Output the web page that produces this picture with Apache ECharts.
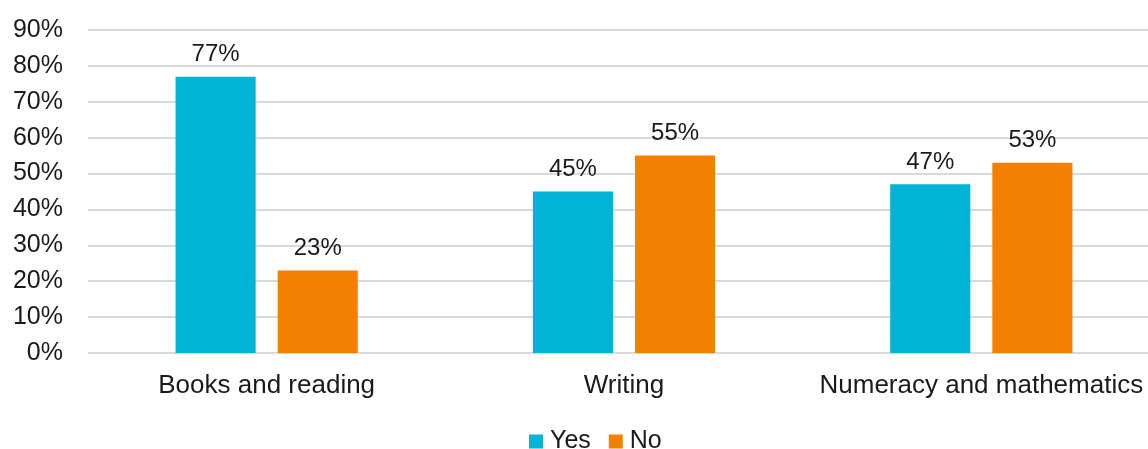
<!DOCTYPE html>
<html><head><meta charset="utf-8">
<script src="https://cdn.jsdelivr.net/npm/echarts@6/dist/echarts.min.js"></script>
<style>html,body{margin:0;padding:0;background:#fff}#c{width:1148px;height:449px}</style>
</head><body><div id="c"></div>
<script>
const categories = ['Books and reading', 'Writing', 'Numeracy and mathematics'];
const yesValues = [77, 45, 47];
const noValues = [23, 55, 53];
const seriesNames = ['Yes', 'No'];

const chart = echarts.init(document.getElementById('c'), null, {renderer: 'canvas'});
const font = '"Liberation Sans", Arial, sans-serif';
const lbl = {show: true, position: 'top', distance: 10, formatter: p => p.value + '%', color: '#1a1a1a', fontSize: 24, fontFamily: font};
chart.setOption({
  animation: false,
  textStyle: {fontFamily: font},
  grid: {left: 88, width: 1072, top: 30, bottom: 96, containLabel: false, outerBoundsMode: 'none'},
  legend: {
    data: seriesNames, top: 424, left: 524, itemWidth: 14, itemHeight: 14, itemGap: 18,
    icon: 'rect', textStyle: {fontSize: 25, color: '#1a1a1a', fontFamily: font, padding: [0, 0, 0, 2]}
  },
  xAxis: {
    type: 'category', data: categories,
    axisLine: {show: false}, axisTick: {show: false},
    axisLabel: {fontSize: 26, color: '#1a1a1a', margin: 20, fontFamily: font, interval: 0}
  },
  yAxis: {
    type: 'value', min: 0, max: 90, interval: 10,
    axisLabel: {formatter: '{value}%', fontSize: 25, color: '#1a1a1a', margin: 25, fontFamily: font},
    splitLine: {lineStyle: {color: '#d9d9d9', width: 2}},
    axisLine: {show: false}, axisTick: {show: false}
  },
  series: [
    {name: seriesNames[0], type: 'bar', data: yesValues, itemStyle: {color: '#00B4D6'}, barGap: '27.5%', barCategoryGap: '49%', label: lbl},
    {name: seriesNames[1], type: 'bar', data: noValues, itemStyle: {color: '#F58000'}, label: lbl}
  ]
});
</script></body></html>
